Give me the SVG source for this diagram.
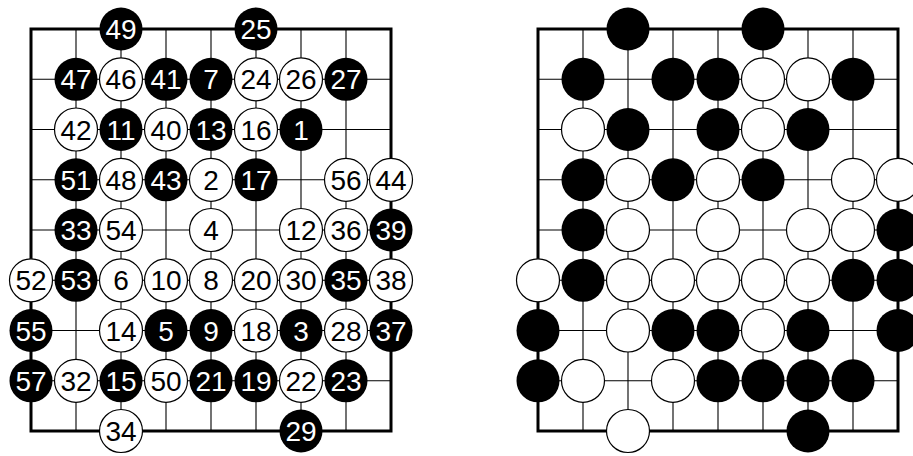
<svg xmlns="http://www.w3.org/2000/svg" width="913" height="456" viewBox="0 0 913 456">
<style>
.grid{fill:none;stroke:#000;stroke-width:1.1}
.border{fill:none;stroke:#000;stroke-width:3}
.b{fill:#000}
.w{fill:#fff;stroke:#000;stroke-width:1.2}
text{font-family:"Liberation Sans",Arial,sans-serif;font-size:28px;text-anchor:middle}
.tb{fill:#fff}
.tw{fill:#000}
</style>
<rect width="913" height="456" fill="#fff"/>
<g id="connectors">
<path class="grid" d="M31 79.3H391M31 129.5H391M31 179.8H391M31 230H391M31 280.3H391M31 330.5H391M31 380.8H391M76 29V431M121 29V431M166 29V431M211 29V431M256 29V431M301 29V431M346 29V431"/>
<rect class="border" x="31" y="29" width="360" height="402"/>
<path class="grid" d="M538 79.3H898M538 129.5H898M538 179.8H898M538 230H898M538 280.3H898M538 330.5H898M538 380.8H898M583 29V431M628 29V431M673 29V431M718 29V431M763 29V431M808 29V431M853 29V431"/>
<rect class="border" x="538" y="29" width="360" height="402"/>
</g>
<g id="left-board">
<g id="m49"><circle class="b" cx="121" cy="29" r="21.5"/><text class="tb" x="121" y="39">49</text></g>
<g id="m25"><circle class="b" cx="256" cy="29" r="21.5"/><text class="tb" x="256" y="39">25</text></g>
<g id="m47"><circle class="b" cx="76" cy="79.3" r="21.5"/><text class="tb" x="76" y="89.3">47</text></g>
<g id="m46"><circle class="w" cx="121" cy="79.3" r="21.5"/><text class="tw" x="121" y="89.3">46</text></g>
<g id="m41"><circle class="b" cx="166" cy="79.3" r="21.5"/><text class="tb" x="166" y="89.3">41</text></g>
<g id="m7"><circle class="b" cx="211" cy="79.3" r="21.5"/><text class="tb" x="211" y="89.3">7</text></g>
<g id="m24"><circle class="w" cx="256" cy="79.3" r="21.5"/><text class="tw" x="256" y="89.3">24</text></g>
<g id="m26"><circle class="w" cx="301" cy="79.3" r="21.5"/><text class="tw" x="301" y="89.3">26</text></g>
<g id="m27"><circle class="b" cx="346" cy="79.3" r="21.5"/><text class="tb" x="346" y="89.3">27</text></g>
<g id="m42"><circle class="w" cx="76" cy="129.5" r="21.5"/><text class="tw" x="76" y="139.5">42</text></g>
<g id="m11"><circle class="b" cx="121" cy="129.5" r="21.5"/><text class="tb" x="121" y="139.5">11</text></g>
<g id="m40"><circle class="w" cx="166" cy="129.5" r="21.5"/><text class="tw" x="166" y="139.5">40</text></g>
<g id="m13"><circle class="b" cx="211" cy="129.5" r="21.5"/><text class="tb" x="211" y="139.5">13</text></g>
<g id="m16"><circle class="w" cx="256" cy="129.5" r="21.5"/><text class="tw" x="256" y="139.5">16</text></g>
<g id="m1"><circle class="b" cx="301" cy="129.5" r="21.5"/><text class="tb" x="301" y="139.5">1</text></g>
<g id="m51"><circle class="b" cx="76" cy="179.8" r="21.5"/><text class="tb" x="76" y="189.8">51</text></g>
<g id="m48"><circle class="w" cx="121" cy="179.8" r="21.5"/><text class="tw" x="121" y="189.8">48</text></g>
<g id="m43"><circle class="b" cx="166" cy="179.8" r="21.5"/><text class="tb" x="166" y="189.8">43</text></g>
<g id="m2"><circle class="w" cx="211" cy="179.8" r="21.5"/><text class="tw" x="211" y="189.8">2</text></g>
<g id="m17"><circle class="b" cx="256" cy="179.8" r="21.5"/><text class="tb" x="256" y="189.8">17</text></g>
<g id="m56"><circle class="w" cx="346" cy="179.8" r="21.5"/><text class="tw" x="346" y="189.8">56</text></g>
<g id="m44"><circle class="w" cx="391" cy="179.8" r="21.5"/><text class="tw" x="391" y="189.8">44</text></g>
<g id="m33"><circle class="b" cx="76" cy="230" r="21.5"/><text class="tb" x="76" y="240">33</text></g>
<g id="m54"><circle class="w" cx="121" cy="230" r="21.5"/><text class="tw" x="121" y="240">54</text></g>
<g id="m4"><circle class="w" cx="211" cy="230" r="21.5"/><text class="tw" x="211" y="240">4</text></g>
<g id="m12"><circle class="w" cx="301" cy="230" r="21.5"/><text class="tw" x="301" y="240">12</text></g>
<g id="m36"><circle class="w" cx="346" cy="230" r="21.5"/><text class="tw" x="346" y="240">36</text></g>
<g id="m39"><circle class="b" cx="391" cy="230" r="21.5"/><text class="tb" x="391" y="240">39</text></g>
<g id="m52"><circle class="w" cx="31" cy="280.3" r="21.5"/><text class="tw" x="31" y="290.3">52</text></g>
<g id="m53"><circle class="b" cx="76" cy="280.3" r="21.5"/><text class="tb" x="76" y="290.3">53</text></g>
<g id="m6"><circle class="w" cx="121" cy="280.3" r="21.5"/><text class="tw" x="121" y="290.3">6</text></g>
<g id="m10"><circle class="w" cx="166" cy="280.3" r="21.5"/><text class="tw" x="166" y="290.3">10</text></g>
<g id="m8"><circle class="w" cx="211" cy="280.3" r="21.5"/><text class="tw" x="211" y="290.3">8</text></g>
<g id="m20"><circle class="w" cx="256" cy="280.3" r="21.5"/><text class="tw" x="256" y="290.3">20</text></g>
<g id="m30"><circle class="w" cx="301" cy="280.3" r="21.5"/><text class="tw" x="301" y="290.3">30</text></g>
<g id="m35"><circle class="b" cx="346" cy="280.3" r="21.5"/><text class="tb" x="346" y="290.3">35</text></g>
<g id="m38"><circle class="w" cx="391" cy="280.3" r="21.5"/><text class="tw" x="391" y="290.3">38</text></g>
<g id="m55"><circle class="b" cx="31" cy="330.5" r="21.5"/><text class="tb" x="31" y="340.5">55</text></g>
<g id="m14"><circle class="w" cx="121" cy="330.5" r="21.5"/><text class="tw" x="121" y="340.5">14</text></g>
<g id="m5"><circle class="b" cx="166" cy="330.5" r="21.5"/><text class="tb" x="166" y="340.5">5</text></g>
<g id="m9"><circle class="b" cx="211" cy="330.5" r="21.5"/><text class="tb" x="211" y="340.5">9</text></g>
<g id="m18"><circle class="w" cx="256" cy="330.5" r="21.5"/><text class="tw" x="256" y="340.5">18</text></g>
<g id="m3"><circle class="b" cx="301" cy="330.5" r="21.5"/><text class="tb" x="301" y="340.5">3</text></g>
<g id="m28"><circle class="w" cx="346" cy="330.5" r="21.5"/><text class="tw" x="346" y="340.5">28</text></g>
<g id="m37"><circle class="b" cx="391" cy="330.5" r="21.5"/><text class="tb" x="391" y="340.5">37</text></g>
<g id="m57"><circle class="b" cx="31" cy="380.8" r="21.5"/><text class="tb" x="31" y="390.8">57</text></g>
<g id="m32"><circle class="w" cx="76" cy="380.8" r="21.5"/><text class="tw" x="76" y="390.8">32</text></g>
<g id="m15"><circle class="b" cx="121" cy="380.8" r="21.5"/><text class="tb" x="121" y="390.8">15</text></g>
<g id="m50"><circle class="w" cx="166" cy="380.8" r="21.5"/><text class="tw" x="166" y="390.8">50</text></g>
<g id="m21"><circle class="b" cx="211" cy="380.8" r="21.5"/><text class="tb" x="211" y="390.8">21</text></g>
<g id="m19"><circle class="b" cx="256" cy="380.8" r="21.5"/><text class="tb" x="256" y="390.8">19</text></g>
<g id="m22"><circle class="w" cx="301" cy="380.8" r="21.5"/><text class="tw" x="301" y="390.8">22</text></g>
<g id="m23"><circle class="b" cx="346" cy="380.8" r="21.5"/><text class="tb" x="346" y="390.8">23</text></g>
<g id="m34"><circle class="w" cx="121" cy="431" r="21.5"/><text class="tw" x="121" y="441">34</text></g>
<g id="m29"><circle class="b" cx="301" cy="431" r="21.5"/><text class="tb" x="301" y="441">29</text></g>
</g>
<g id="right-board">
<g id="r-2-0"><circle class="b" cx="628" cy="29" r="21.5"/></g>
<g id="r-5-0"><circle class="b" cx="763" cy="29" r="21.5"/></g>
<g id="r-1-1"><circle class="b" cx="583" cy="79.3" r="21.5"/></g>
<g id="r-3-1"><circle class="b" cx="673" cy="79.3" r="21.5"/></g>
<g id="r-4-1"><circle class="b" cx="718" cy="79.3" r="21.5"/></g>
<g id="r-5-1"><circle class="w" cx="763" cy="79.3" r="21.5"/></g>
<g id="r-6-1"><circle class="w" cx="808" cy="79.3" r="21.5"/></g>
<g id="r-7-1"><circle class="b" cx="853" cy="79.3" r="21.5"/></g>
<g id="r-1-2"><circle class="w" cx="583" cy="129.5" r="21.5"/></g>
<g id="r-2-2"><circle class="b" cx="628" cy="129.5" r="21.5"/></g>
<g id="r-4-2"><circle class="b" cx="718" cy="129.5" r="21.5"/></g>
<g id="r-5-2"><circle class="w" cx="763" cy="129.5" r="21.5"/></g>
<g id="r-6-2"><circle class="b" cx="808" cy="129.5" r="21.5"/></g>
<g id="r-1-3"><circle class="b" cx="583" cy="179.8" r="21.5"/></g>
<g id="r-2-3"><circle class="w" cx="628" cy="179.8" r="21.5"/></g>
<g id="r-3-3"><circle class="b" cx="673" cy="179.8" r="21.5"/></g>
<g id="r-4-3"><circle class="w" cx="718" cy="179.8" r="21.5"/></g>
<g id="r-5-3"><circle class="b" cx="763" cy="179.8" r="21.5"/></g>
<g id="r-7-3"><circle class="w" cx="853" cy="179.8" r="21.5"/></g>
<g id="r-8-3"><circle class="w" cx="898" cy="179.8" r="21.5"/></g>
<g id="r-1-4"><circle class="b" cx="583" cy="230" r="21.5"/></g>
<g id="r-2-4"><circle class="w" cx="628" cy="230" r="21.5"/></g>
<g id="r-4-4"><circle class="w" cx="718" cy="230" r="21.5"/></g>
<g id="r-6-4"><circle class="w" cx="808" cy="230" r="21.5"/></g>
<g id="r-7-4"><circle class="w" cx="853" cy="230" r="21.5"/></g>
<g id="r-8-4"><circle class="b" cx="898" cy="230" r="21.5"/></g>
<g id="r-0-5"><circle class="w" cx="538" cy="280.3" r="21.5"/></g>
<g id="r-1-5"><circle class="b" cx="583" cy="280.3" r="21.5"/></g>
<g id="r-2-5"><circle class="w" cx="628" cy="280.3" r="21.5"/></g>
<g id="r-3-5"><circle class="w" cx="673" cy="280.3" r="21.5"/></g>
<g id="r-4-5"><circle class="w" cx="718" cy="280.3" r="21.5"/></g>
<g id="r-5-5"><circle class="w" cx="763" cy="280.3" r="21.5"/></g>
<g id="r-6-5"><circle class="w" cx="808" cy="280.3" r="21.5"/></g>
<g id="r-7-5"><circle class="b" cx="853" cy="280.3" r="21.5"/></g>
<g id="r-8-5"><circle class="b" cx="898" cy="280.3" r="21.5"/></g>
<g id="r-0-6"><circle class="b" cx="538" cy="330.5" r="21.5"/></g>
<g id="r-2-6"><circle class="w" cx="628" cy="330.5" r="21.5"/></g>
<g id="r-3-6"><circle class="b" cx="673" cy="330.5" r="21.5"/></g>
<g id="r-4-6"><circle class="b" cx="718" cy="330.5" r="21.5"/></g>
<g id="r-5-6"><circle class="w" cx="763" cy="330.5" r="21.5"/></g>
<g id="r-6-6"><circle class="b" cx="808" cy="330.5" r="21.5"/></g>
<g id="r-8-6"><circle class="b" cx="898" cy="330.5" r="21.5"/></g>
<g id="r-0-7"><circle class="b" cx="538" cy="380.8" r="21.5"/></g>
<g id="r-1-7"><circle class="w" cx="583" cy="380.8" r="21.5"/></g>
<g id="r-3-7"><circle class="w" cx="673" cy="380.8" r="21.5"/></g>
<g id="r-4-7"><circle class="b" cx="718" cy="380.8" r="21.5"/></g>
<g id="r-5-7"><circle class="b" cx="763" cy="380.8" r="21.5"/></g>
<g id="r-6-7"><circle class="b" cx="808" cy="380.8" r="21.5"/></g>
<g id="r-7-7"><circle class="b" cx="853" cy="380.8" r="21.5"/></g>
<g id="r-2-8"><circle class="w" cx="628" cy="431" r="21.5"/></g>
<g id="r-6-8"><circle class="b" cx="808" cy="431" r="21.5"/></g>
</g>
</svg>
